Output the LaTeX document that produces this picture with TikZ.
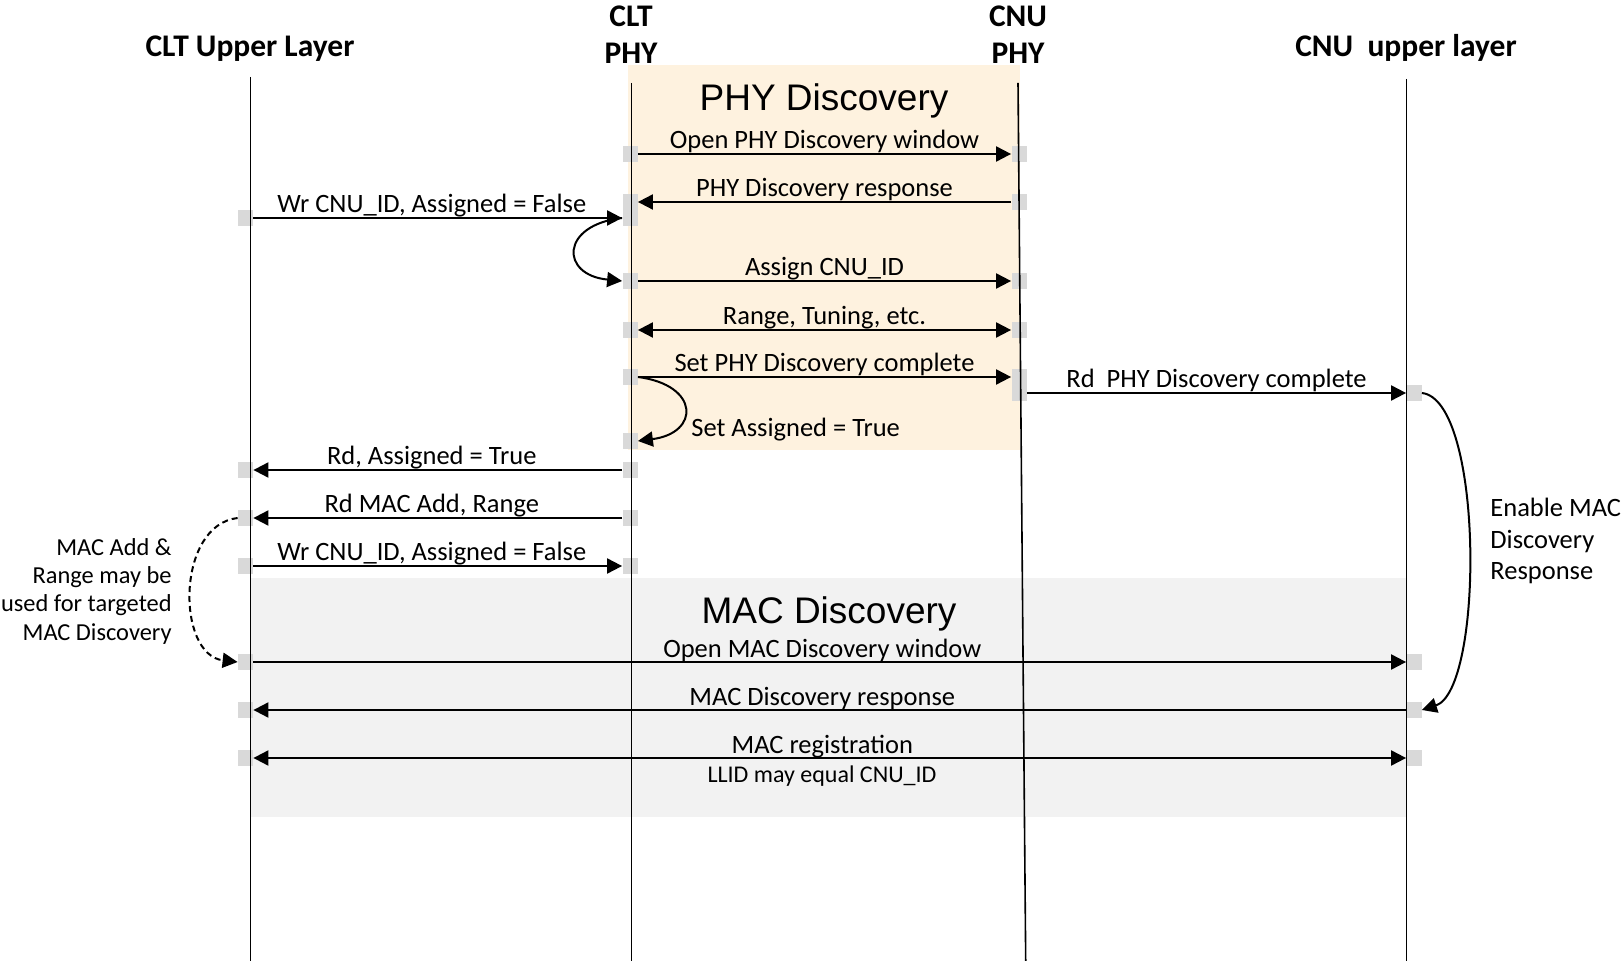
\documentclass[tikz,border=0pt]{standalone}
\usepackage{fontspec}
\setmainfont{Carlito}
\newfontfamily\titlefont{Liberation Sans}
\usetikzlibrary{arrows.meta, positioning}

\definecolor{phyfill}{HTML}{FEF2DF}
\definecolor{macfill}{HTML}{F2F2F2}
\definecolor{actgray}{HTML}{D9D9D9}

\begin{document}
\begin{tikzpicture}[
    x=0.5pt, y=-0.5pt,
    every node/.style={font=\fontsize{13.25}{14.25}\selectfont, inner sep=0pt},
    hdr/.style={font=\fontsize{15.75}{18.75}\selectfont\bfseries, align=center, anchor=base},
    ttl/.style={font=\fontsize{18.5}{22}\selectfont\titlefont, anchor=base},
    lbl/.style={anchor=base, yshift=2.5pt},
    act/.style={fill=actgray, minimum width=7.5pt, minimum height=8pt},
    life/.style={line width=0.8pt},
    msg/.style={line width=1pt, -{Triangle[length=7.5pt, width=7.5pt]}},
    twoway/.style={line width=1pt, {Triangle[length=7.5pt, width=7.5pt]}-{Triangle[length=7.5pt, width=7.5pt]}}
  ]

  \useasboundingbox (0,0) rectangle (1621,961);
  \fill[white] (0,0) rectangle (1621,961);

  % phases
  \fill[phyfill] (628,65) rectangle (1020,450);
  \fill[macfill] (250,578) rectangle (1406,817);
  \node[ttl] (phyT) at (824,111) {PHY Discovery};
  \node[ttl] (macT) at (829,624) {MAC Discovery};

  % activation marks on the lifelines
  \foreach \y in {218,470,518,566,662,710,758}
    \node[act] (cu\y) at (245.5,\y) {};
  \foreach \y in {154,202,218,281,330,377,441,470,518,566}
    \node[act] (cp\y) at (630,\y) {};
  \foreach \y in {154,202,281,330,377,393}
    \node[act] (np\y) at (1019,\y) {};
  \foreach \y in {393,662,710,758}
    \node[act] (nu\y) at (1414,\y) {};

  % lifelines
  \node[hdr] (hCU) at (250,57) {CLT Upper Layer};
  \node[hdr] (hCP) at (631,64) {CLT\\PHY};
  \node[hdr] (hNP) at (1018,64) {CNU\\PHY};
  \node[hdr] (hNU) at (1406,57) {CNU\ \ upper layer};
  \draw[life] (250.5,77) -- (250.5,961);
  \draw[life] (631.5,83) -- (631.5,961);
  \draw[life] (1018,83) -- (1025.7,961);
  \draw[life] (1406.5,79) -- (1406.5,961);

  % PHY discovery
  \draw[msg] (cp154.east) -- node[lbl] (l1) {Open PHY Discovery window} (np154.west);
  \draw[msg] (np202.west) -- node[lbl] (l2) {PHY Discovery response} (cp202.east);
  \draw[msg] (cu218.east) -- node[lbl, xshift=-3pt] (l3) {Wr CNU\_ID, Assigned = False} (cp218.west);
  \draw[msg] (cp218.west) .. controls (560,225) and (560,275) .. (cp281.west);
  \draw[msg] (cp281.east) -- node[lbl] (l4) {Assign CNU\_ID} (np281.west);
  \draw[twoway] (cp330.east) -- node[lbl] (l5) {Range, Tuning, etc.} (np330.west);
  \draw[msg] (cp377.east) -- node[lbl] (l6) {Set PHY Discovery complete} (np377.west);
  \draw[msg] (cp377.east) .. controls (700,385) and (700,433) .. (cp441.east);
  \node[anchor=base west] (l7) at (691,437) {Set Assigned = True};
  \draw[msg] (np393.east) -- node[lbl] (l8) {Rd\ \ PHY Discovery complete} (nu393.west);
  \draw[msg] (nu393.east) .. controls (1484,400) and (1484,690) .. (nu710.east);
  \node[anchor=base west, align=left, font=\fontsize{13.25}{15.85}\selectfont] (l9) at (1490,580)
    {Enable MAC\\Discovery\\Response};

  % back to the upper layer
  \draw[msg] (cp470.west) -- node[lbl, xshift=-3pt] (l10) {Rd, Assigned = True} (cu470.east);
  \draw[msg] (cp518.west) -- node[lbl, xshift=-3pt] (l11) {Rd MAC Add, Range} (cu518.east);
  \draw[msg] (cu566.east) -- node[lbl, xshift=-3pt] (l12) {Wr CNU\_ID, Assigned = False} (cp566.west);
  \draw[msg, dash pattern=on 3pt off 2pt] (cu518.west) .. controls (176,525) and (176,655) .. (cu662.west);
  \node[anchor=base east, align=right, font=\fontsize{12.2}{14.15}\selectfont] (l13) at (172,640)
    {MAC Add \&\\Range may be\\used for targeted\\MAC Discovery};

  % MAC discovery
  \draw[msg] (cu662.east) -- node[lbl, xshift=-3.75pt] (l14) {Open MAC Discovery window} (nu662.west);
  \draw[msg] (nu710.west) -- node[lbl, xshift=-3.75pt] (l15) {MAC Discovery response} (cu710.east);
  \draw[twoway] (cu758.east) -- node[lbl, xshift=-3.75pt] (l16) {MAC registration} (nu758.west);
  \node[anchor=base, font=\fontsize{12}{14}\selectfont] (l17) at (822,782) {LLID may equal CNU\_ID};

\end{tikzpicture}
\end{document}
